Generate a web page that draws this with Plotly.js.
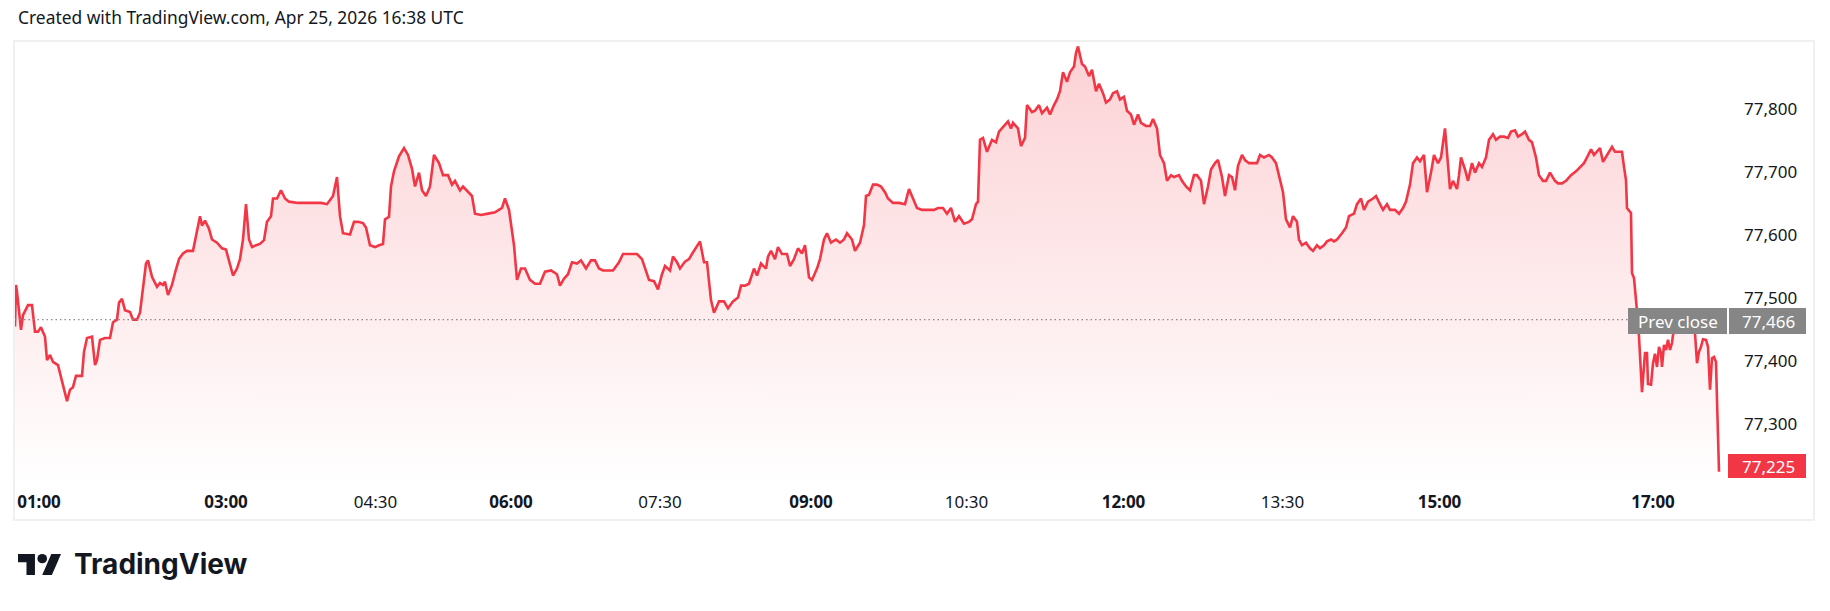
<!DOCTYPE html>
<html><head><meta charset="utf-8">
<script src="https://cdn.plot.ly/plotly-3.0.1.min.js"></script>
<style>html,body{margin:0;padding:0;background:#fff;}#chart{width:1830px;height:611px;}</style>
</head><body><div id="chart"></div>
<script>
// ---- data (bar index along TradingView's logical time scale, price) ----
const barIndex = [0,1,2,6,8,13,17,20,23,26,30,32,35,38,43,46,48,52,55,58,61,67,69,72,77,80,82,85,90,95,98,102,104,107,110,115,118,122,125,128,131,133,137,142,145,148,150,153,157,160,
164,168,172,178,181,185,187,190,194,197,202,207,211,215,218,222,225,228,231,234,237,241,245,249,252,256,258,262,266,270,274,283,294,306,312,318,322,325,328,335,339,343,348,351,355,360,364,368,370,374,376,379,384,389,393,397,400,404,407,411,415,419,424,428,433,437,440,445,448,452,457,460,466,473,480,487,490,494,499,502,506,510,515,520,525,530,536,542,545,549,553,557,562,566,571,576,580,584,588,593,598,604,608,615,622,627,630,634,639,643,647,650,655,658,662,665,670,674,677,682,685,689,692,696,699,704,709,713,718,723,726,730,734,739,742,746,751,753,756,760,763,767,772,775,779,783,787,790,794,797,802,805,809,812,816,821,825,829,832,837,840,845,849,851,854,858,862,866,870,873,878,884,890,894,898,902,907,913,919,923,928,932,936,940,944,949,954,957,961,963,965,968,972,977,981,984,989,993,996,998,1003,1006,1010,1012,1017,1020,1024,1027,1032,1035,1039,1042,1045,1048,1052,1055,1059,1061,1063,1067,1070,1074,1077,1081,1084,1088,1091,1095,1098,1102,1105,1109,1112,1116,1119,1123,1126,1131,1135,1138,1142,1145,1149,1152,1156,1159,1164,1167,1171,1175,1179,1182,1186,1189,1193,1196,1200,1203,1207,1210,1214,1217,1220,1223,1227,1230,1234,1242,1245,1249,1254,1257,1261,1264,1268,1271,1275,1278,1282,1284,1287,1291,1295,1298,1302,1305,1309,1312,1316,1319,1322,1327,1331,1334,1339,1342,1346,1349,1353,1358,1361,1365,1368,1372,1375,1380,1384,1388,1391,1395,1398,1402,1405,1409,1412,1416,1419,1423,1426,1430,1432,1435,1438,1442,1444,1446,1450,1453,1457,1460,1464,1467,1471,1474,1478,1481,1485,1489,1493,1496,1500,1503,1507,1510,1514,1517,1521,1524,1528,1531,1535,1540,1543,1547,1551,1556,1561,1565,1569,1572,1576,1579,1582,
1585,1588,1592,1595,1597,1600,1605,1607,1609,1611,1612,1614,1616,1617,1619,1622,1624,1627,1630,1632,1633,1636,1638,1640,1642,1644,1646,1647,1649,1651,1653,1655,1657,1658,1662,1666,1670,1674,1678,1680,1682,1684,1686,1688,1691,1693,1695,1697,1699,1701,1702,1704];
const price = [77455,77521,77510,77450,77473,77489,77489,77447,77447,77454,77439,77402,77410,77399,77394,77374,77363,77337,77355,77359,77377,77377,77415,77437,77439,77394,77402,77434,77437,77437,77462,77466,77493,77499,77481,77478,77466,77466,77477,77513,77555,77560,77534,77518,77524,77521,77526,77505,77521,77540,
77562,77571,77575,77575,77597,77630,77615,77623,77610,77593,77588,77579,77577,77551,77536,77547,77562,77593,77649,77593,77581,77584,77586,77592,77621,77630,77658,77658,77671,77658,77653,77651,77651,77651,77649,77662,77692,77630,77603,77601,77621,77621,77619,77612,77584,77581,77584,77586,77625,77629,77677,77701,77725,77738,77727,77705,77677,77699,77671,77662,77677,77727,77714,77695,77695,77680,77686,77671,77677,77671,77662,77634,77632,77634,77636,77643,77658,77640,77584,77529,77547,77547,77529,77523,77523,77542,77544,77538,77520,77531,77538,77557,77555,77560,77547,77560,77560,77547,77544,77544,77544,77557,77570,77570,77570,77562,77547,77529,77527,77514,77538,77551,77544,77566,77557,77547,77558,77562,77570,77584,77590,77557,77557,77497,77477,77495,77495,77484,77495,77501,77520,77520,77523,77547,77536,77555,77547,77566,77575,77562,77581,77570,77570,77551,77562,77579,77571,77584,77533,77529,77547,77562,77593,77603,77588,77593,77588,77593,77603,77593,77575,77588,77616,77662,77664,77680,77680,77677,77668,77658,77651,77651,77649,77673,77658,77643,77640,77640,77640,77643,77643,77634,77643,77621,77630,77618,77621,77625,77649,77653,77751,77754,77732,77751,77747,77764,77773,77780,77769,77778,77769,77741,77754,77806,77795,77797,77806,77793,77802,77791,77806,77815,77828,77858,77843,77858,77867,77889,77899,77871,77867,77852,77862,77828,77840,77825,77810,77815,77825,77828,77815,77819,77797,77791,77775,77791,77778,77773,77773,77784,77769,77727,77714,77686,77695,77692,77695,77686,77677,77671,77695,77695,77686,77649,77677,77704,77714,77719,77692,77662,77695,77692,77671,77710,77727,77719,77714,77714,77727,77723,77727,77723,77714,77695,77668,77625,77612,77630,77621,77593,77584,77588,77579,77575,77584,77579,77584,77590,77593,77590,77593,77603,77612,77630,77634,77649,77658,77640,77653,77658,77662,77649,77640,77649,77640,77640,77634,77643,77653,77680,77714,77723,77717,77727,77668,77699,77727,77714,77723,77769,77727,77673,77686,77673,77695,77723,77704,77686,77714,77699,77714,77708,77723,77751,77760,77751,77756,77756,77754,77764,77766,77756,77760,77764,77751,77747,77723,77695,77686,77686,77699,77686,77682,77682,77686,77695,77701,77708,77714,77723,77736,77727,77732,
77738,77716,77727,77735,77740,77732,77732,77732,77708,77687,77643,77638,77635,77540,77532,77480,77439,77351,77413,77413,77364,77363,77397,77412,77391,77423,77413,77391,77426,77418,77434,77418,77429,77442,77462,77452,77470,77458,77448,77445,77397,77415,77423,77435,77434,77423,77355,77405,77407,77399,77339,77225];

const tickBars   = [24, 211, 360.5, 496, 645, 796, 951.5, 1108.5, 1267.5, 1424.5, 1638];
const tickLabels = ['01:00','03:00','04:30','06:00','07:30','09:00','10:30','12:00','13:30','15:00','17:00'];
const priceTicks = [77300, 77400, 77500, 77600, 77700, 77800];
const prevClose  = 77466;
const lastPrice  = 77225;
const headerText = 'Created with TradingView.com, Apr 25, 2026 16:38 UTC';
const brandText  = 'TradingView';

// ---- layout geometry ----
const W = 1830, H = 611;
const L = 15, R = 1725, T = 42, B = 485;
const px = x => (x - L) / (R - L);
const py = y => (B - y) / (B - T);
const RED = '#f23645', INK = '#131722', GREY = '#868686';
const FONT = 'Noto Sans, sans-serif';
const FS = 17;
const fmt = v => v.toLocaleString('en-US');

const trace = {
  x: barIndex, y: price, type: 'scatter', mode: 'lines',
  line: {color: RED, width: 2.6},
  fill: 'tozeroy',
  fillgradient: {type: 'vertical', start: 77204, stop: 77906,
    colorscale: [[0, 'rgba(242,54,69,0)'], [1, 'rgba(242,54,69,0.23)']]},
  hoverinfo: 'skip'
};

const logoSvg = "<svg xmlns='http://www.w3.org/2000/svg' viewBox='0 4 35.5 18' preserveAspectRatio='none'>" +
  "<path d='M14 22H7V11H0V4h14v18z' fill='#131722'/>" +
  "<circle cx='20' cy='8' r='4' fill='#131722'/>" +
  "<path d='M28 22h-8l7.5-18h8L28 22z' fill='#131722'/></svg>";

const layout = {
  width: W, height: H,
  margin: {l: L, r: W - R, t: T, b: H - B, pad: 0},
  paper_bgcolor: '#ffffff', plot_bgcolor: '#ffffff',
  showlegend: false,
  font: {family: FONT, color: INK, size: FS},
  xaxis: {
    range: [0, R - L], showgrid: false, zeroline: false, showline: false,
    ticks: '', tickvals: tickBars,
    ticktext: tickLabels.map(t => t.endsWith(':00') ? '<b>' + t + '</b>' : t),
    tickfont: {family: FONT, size: FS, color: INK}, ticklabelstandoff: 5, fixedrange: true
  },
  yaxis: {
    range: [77204, 77906], side: 'right', showgrid: false, zeroline: false, showline: false,
    ticks: '', tickvals: priceTicks, ticktext: priceTicks.map(fmt),
    tickfont: {family: FONT, size: FS, color: INK}, ticklabelstandoff: 18, fixedrange: true
  },
  shapes: [
    {type: 'rect', xref: 'paper', yref: 'paper', x0: px(14), x1: px(1814), y0: py(520), y1: py(41),
     line: {color: '#f0f0f0', width: 2}, fillcolor: 'rgba(0,0,0,0)', layer: 'below'},
    {type: 'line', xref: 'paper', yref: 'y', x0: 0, x1: px(1628), y0: prevClose, y1: prevClose,
     line: {color: '#8a8a8a', width: 1.2, dash: '1.5px,3px'}},
    {type: 'rect', xref: 'paper', yref: 'paper', x0: px(1628), x1: px(1727), y0: py(334), y1: py(308),
     fillcolor: GREY, line: {width: 0}},
    {type: 'rect', xref: 'paper', yref: 'paper', x0: px(1729), x1: px(1806), y0: py(334), y1: py(308),
     fillcolor: GREY, line: {width: 0}},
    {type: 'rect', xref: 'paper', yref: 'paper', x0: px(1728), x1: px(1806), y0: py(478), y1: py(454),
     fillcolor: RED, line: {width: 0}}
  ],
  annotations: [
    {text: headerText, xref: 'paper', yref: 'paper', x: px(16), y: py(17), xanchor: 'left', yanchor: 'middle',
     showarrow: false, font: {family: FONT, size: 17.4, color: INK}},
    {text: 'Prev close', xref: 'paper', yref: 'paper', x: px(1677.5), y: py(321), xanchor: 'center', yanchor: 'middle',
     showarrow: false, font: {family: FONT, size: FS, color: '#ffffff'}},
    {text: fmt(prevClose), xref: 'paper', yref: 'paper', x: px(1797), y: py(321), xanchor: 'right', yanchor: 'middle',
     showarrow: false, font: {family: FONT, size: FS, color: '#ffffff'}},
    {text: fmt(lastPrice), xref: 'paper', yref: 'paper', x: px(1797), y: py(466), xanchor: 'right', yanchor: 'middle',
     showarrow: false, font: {family: FONT, size: FS, color: '#ffffff'}},
    {text: '<b>' + brandText + '</b>', xref: 'paper', yref: 'paper', x: px(72), y: py(564), xanchor: 'left', yanchor: 'middle',
     showarrow: false, font: {family: 'Inter, sans-serif', size: 28, color: INK}}
  ],
  images: [
    {source: 'data:image/svg+xml;utf8,' + encodeURIComponent(logoSvg), xref: 'paper', yref: 'paper',
     x: px(18), y: py(554), sizex: 43 / (R - L), sizey: 21 / (B - T), xanchor: 'left', yanchor: 'top',
     sizing: 'stretch', layer: 'above'}
  ]
};

Plotly.newPlot('chart', [trace], layout, {staticPlot: true, displayModeBar: false});
</script></body></html>
